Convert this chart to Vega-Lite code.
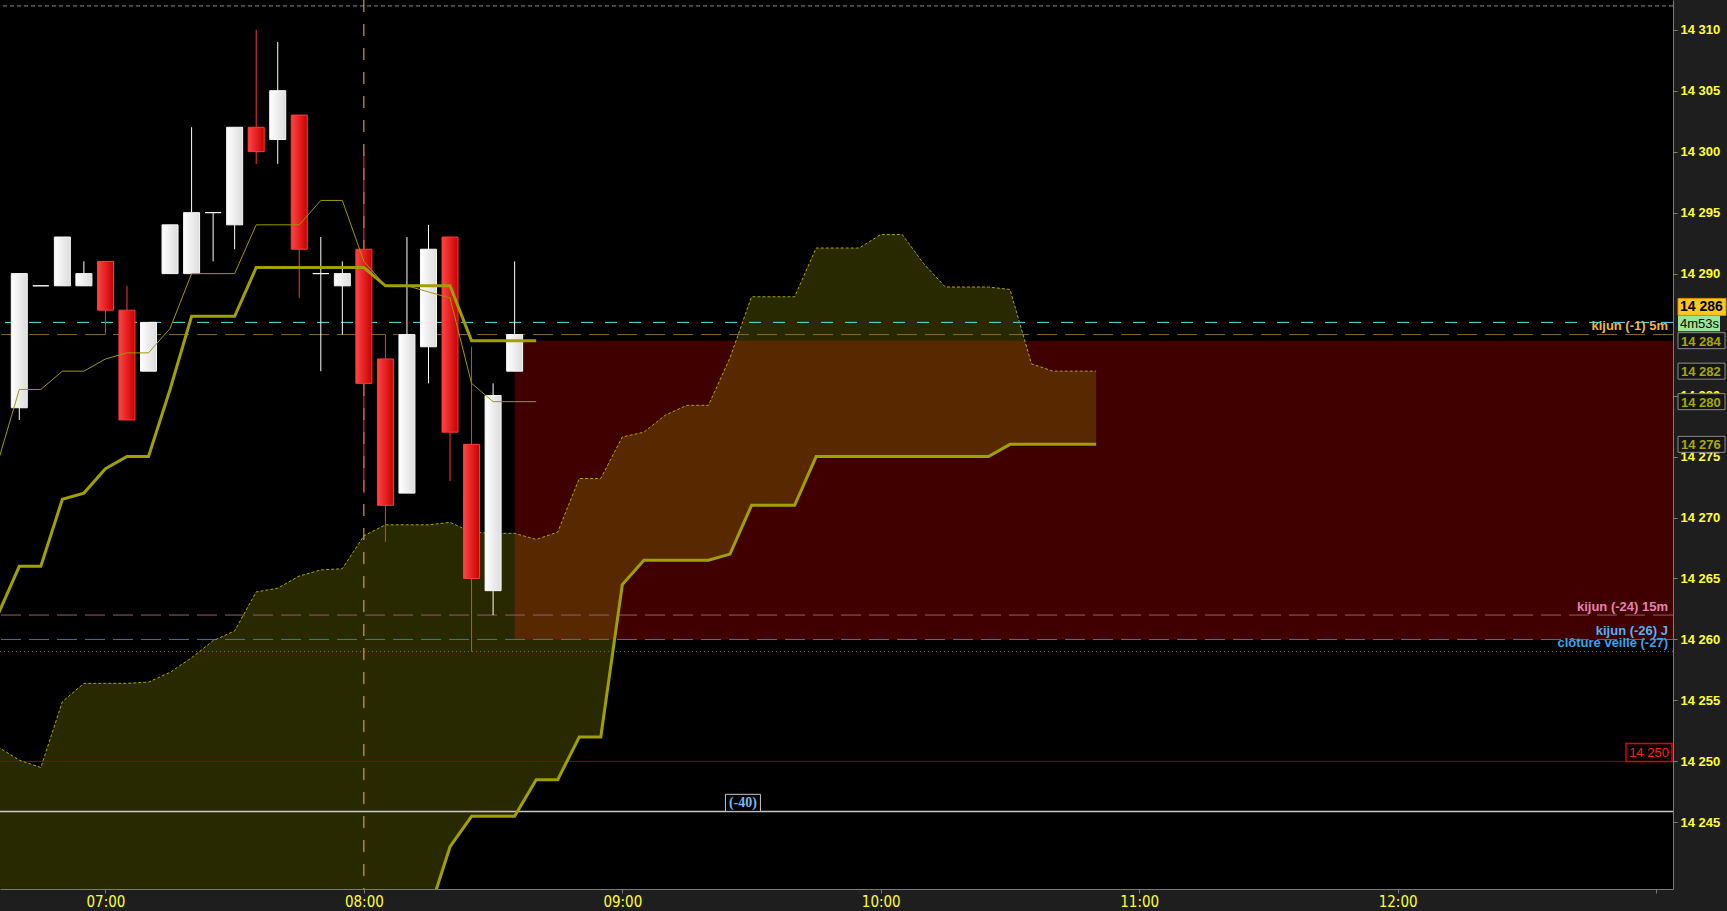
{
  "$schema": "https://vega.github.io/schema/vega-lite/v6.json",
  "width": 1673,
  "height": 889,
  "autosize": {"type": "none"},
  "padding": {"left": 0, "top": 0, "right": 54, "bottom": 22},
  "background": "#1e1e1e",
  "config": {"view": {"fill": "#000000", "stroke": null}},
  "datasets": {
    "candles": [
      {"t": "2024-03-01T06:40:00", "o": 14279, "h": 14290, "l": 14278, "c": 14290},
      {"t": "2024-03-01T06:45:00", "o": 14289, "h": 14289, "l": 14289, "c": 14289},
      {"t": "2024-03-01T06:50:00", "o": 14289, "h": 14293, "l": 14289, "c": 14293},
      {"t": "2024-03-01T06:55:00", "o": 14289, "h": 14291, "l": 14289, "c": 14290},
      {"t": "2024-03-01T07:00:00", "o": 14291, "h": 14291, "l": 14285, "c": 14287},
      {"t": "2024-03-01T07:05:00", "o": 14287, "h": 14289, "l": 14278, "c": 14278},
      {"t": "2024-03-01T07:10:00", "o": 14282, "h": 14286, "l": 14282, "c": 14286},
      {"t": "2024-03-01T07:15:00", "o": 14290, "h": 14294, "l": 14290, "c": 14294},
      {"t": "2024-03-01T07:20:00", "o": 14290, "h": 14302, "l": 14290, "c": 14295},
      {"t": "2024-03-01T07:25:00", "o": 14295, "h": 14295, "l": 14291, "c": 14295},
      {"t": "2024-03-01T07:30:00", "o": 14294, "h": 14302, "l": 14292, "c": 14302},
      {"t": "2024-03-01T07:35:00", "o": 14302, "h": 14310, "l": 14299, "c": 14300},
      {"t": "2024-03-01T07:40:00", "o": 14301, "h": 14309, "l": 14299, "c": 14305},
      {"t": "2024-03-01T07:45:00", "o": 14303, "h": 14303, "l": 14288, "c": 14292},
      {"t": "2024-03-01T07:50:00", "o": 14290, "h": 14293, "l": 14282, "c": 14290},
      {"t": "2024-03-01T07:55:00", "o": 14289, "h": 14291, "l": 14285, "c": 14290},
      {"t": "2024-03-01T08:00:00", "o": 14292, "h": 14300, "l": 14272, "c": 14281},
      {"t": "2024-03-01T08:05:00", "o": 14283, "h": 14285, "l": 14268, "c": 14271},
      {"t": "2024-03-01T08:10:00", "o": 14272, "h": 14293, "l": 14272, "c": 14285},
      {"t": "2024-03-01T08:15:00", "o": 14284, "h": 14294, "l": 14281, "c": 14292},
      {"t": "2024-03-01T08:20:00", "o": 14293, "h": 14293, "l": 14273, "c": 14277},
      {"t": "2024-03-01T08:25:00", "o": 14276, "h": 14284, "l": 14259, "c": 14265},
      {"t": "2024-03-01T08:30:00", "o": 14264, "h": 14281, "l": 14262, "c": 14280},
      {"t": "2024-03-01T08:35:00", "o": 14282, "h": 14291, "l": 14282, "c": 14285}
    ],
    "kt": [
      {"t": "2024-03-01T06:35:00", "tenkan": 14274.5, "kijun": 14262},
      {"t": "2024-03-01T06:40:00", "tenkan": 14280.5, "kijun": 14266},
      {"t": "2024-03-01T06:45:00", "tenkan": 14280.5, "kijun": 14266},
      {"t": "2024-03-01T06:50:00", "tenkan": 14282, "kijun": 14271.5},
      {"t": "2024-03-01T06:55:00", "tenkan": 14282, "kijun": 14272},
      {"t": "2024-03-01T07:00:00", "tenkan": 14283, "kijun": 14274},
      {"t": "2024-03-01T07:05:00", "tenkan": 14283.5, "kijun": 14275},
      {"t": "2024-03-01T07:10:00", "tenkan": 14283.5, "kijun": 14275},
      {"t": "2024-03-01T07:15:00", "tenkan": 14285.5, "kijun": 14280.5},
      {"t": "2024-03-01T07:20:00", "tenkan": 14290, "kijun": 14286.5},
      {"t": "2024-03-01T07:25:00", "tenkan": 14290, "kijun": 14286.5},
      {"t": "2024-03-01T07:30:00", "tenkan": 14290, "kijun": 14286.5},
      {"t": "2024-03-01T07:35:00", "tenkan": 14294, "kijun": 14290.5},
      {"t": "2024-03-01T07:40:00", "tenkan": 14294, "kijun": 14290.5},
      {"t": "2024-03-01T07:45:00", "tenkan": 14294, "kijun": 14290.5},
      {"t": "2024-03-01T07:50:00", "tenkan": 14296, "kijun": 14290.5},
      {"t": "2024-03-01T07:55:00", "tenkan": 14296, "kijun": 14290.5},
      {"t": "2024-03-01T08:00:00", "tenkan": 14291, "kijun": 14290.5},
      {"t": "2024-03-01T08:05:00", "tenkan": 14289, "kijun": 14289},
      {"t": "2024-03-01T08:10:00", "tenkan": 14289, "kijun": 14289},
      {"t": "2024-03-01T08:15:00", "tenkan": 14288.5, "kijun": 14289},
      {"t": "2024-03-01T08:20:00", "tenkan": 14288, "kijun": 14289},
      {"t": "2024-03-01T08:25:00", "tenkan": 14281, "kijun": 14284.5},
      {"t": "2024-03-01T08:30:00", "tenkan": 14279.5, "kijun": 14284.5},
      {"t": "2024-03-01T08:35:00", "tenkan": 14279.5, "kijun": 14284.5},
      {"t": "2024-03-01T08:40:00", "tenkan": 14279.5, "kijun": 14284.5}
    ],
    "cloud": [
      {"t": "2024-03-01T06:35:00", "a": 14251.2, "b": 14235},
      {"t": "2024-03-01T06:40:00", "a": 14250.1, "b": 14235},
      {"t": "2024-03-01T06:45:00", "a": 14249.5, "b": 14235},
      {"t": "2024-03-01T06:50:00", "a": 14254.9, "b": 14235},
      {"t": "2024-03-01T06:55:00", "a": 14256.4, "b": 14235},
      {"t": "2024-03-01T07:00:00", "a": 14256.4, "b": 14235},
      {"t": "2024-03-01T07:05:00", "a": 14256.4, "b": 14235},
      {"t": "2024-03-01T07:10:00", "a": 14256.5, "b": 14235},
      {"t": "2024-03-01T07:15:00", "a": 14257.3, "b": 14235},
      {"t": "2024-03-01T07:20:00", "a": 14258.5, "b": 14235},
      {"t": "2024-03-01T07:25:00", "a": 14259.9, "b": 14235},
      {"t": "2024-03-01T07:30:00", "a": 14260.7, "b": 14235},
      {"t": "2024-03-01T07:35:00", "a": 14263.9, "b": 14235},
      {"t": "2024-03-01T07:40:00", "a": 14264.2, "b": 14235},
      {"t": "2024-03-01T07:45:00", "a": 14265.2, "b": 14235},
      {"t": "2024-03-01T07:50:00", "a": 14265.7, "b": 14235},
      {"t": "2024-03-01T07:55:00", "a": 14265.8, "b": 14235},
      {"t": "2024-03-01T08:00:00", "a": 14268.5, "b": 14235},
      {"t": "2024-03-01T08:05:00", "a": 14269.4, "b": 14235},
      {"t": "2024-03-01T08:10:00", "a": 14269.4, "b": 14236},
      {"t": "2024-03-01T08:15:00", "a": 14269.4, "b": 14237.5},
      {"t": "2024-03-01T08:20:00", "a": 14269.6, "b": 14243},
      {"t": "2024-03-01T08:25:00", "a": 14268.8, "b": 14245.5},
      {"t": "2024-03-01T08:30:00", "a": 14268.7, "b": 14245.5},
      {"t": "2024-03-01T08:35:00", "a": 14268.7, "b": 14245.5},
      {"t": "2024-03-01T08:40:00", "a": 14268.2, "b": 14248.5},
      {"t": "2024-03-01T08:45:00", "a": 14268.8, "b": 14248.5},
      {"t": "2024-03-01T08:50:00", "a": 14273.2, "b": 14252},
      {"t": "2024-03-01T08:55:00", "a": 14273.2, "b": 14252},
      {"t": "2024-03-01T09:00:00", "a": 14276.6, "b": 14264.5},
      {"t": "2024-03-01T09:05:00", "a": 14277, "b": 14266.5},
      {"t": "2024-03-01T09:10:00", "a": 14278.4, "b": 14266.5},
      {"t": "2024-03-01T09:15:00", "a": 14279.2, "b": 14266.5},
      {"t": "2024-03-01T09:20:00", "a": 14279.2, "b": 14266.5},
      {"t": "2024-03-01T09:25:00", "a": 14283.1, "b": 14267},
      {"t": "2024-03-01T09:30:00", "a": 14288.1, "b": 14271},
      {"t": "2024-03-01T09:35:00", "a": 14288.1, "b": 14271},
      {"t": "2024-03-01T09:40:00", "a": 14288.1, "b": 14271},
      {"t": "2024-03-01T09:45:00", "a": 14292.1, "b": 14275},
      {"t": "2024-03-01T09:50:00", "a": 14292.1, "b": 14275},
      {"t": "2024-03-01T09:55:00", "a": 14292.1, "b": 14275},
      {"t": "2024-03-01T10:00:00", "a": 14293.2, "b": 14275},
      {"t": "2024-03-01T10:05:00", "a": 14293.2, "b": 14275},
      {"t": "2024-03-01T10:10:00", "a": 14290.8, "b": 14275},
      {"t": "2024-03-01T10:15:00", "a": 14288.9, "b": 14275},
      {"t": "2024-03-01T10:20:00", "a": 14288.9, "b": 14275},
      {"t": "2024-03-01T10:25:00", "a": 14288.9, "b": 14275},
      {"t": "2024-03-01T10:30:00", "a": 14288.7, "b": 14276},
      {"t": "2024-03-01T10:35:00", "a": 14282.6, "b": 14276},
      {"t": "2024-03-01T10:40:00", "a": 14282, "b": 14276},
      {"t": "2024-03-01T10:45:00", "a": 14282, "b": 14276},
      {"t": "2024-03-01T10:50:00", "a": 14282, "b": 14276}
    ],
    "levels": [
      {"price": 14285, "label": "kijun (-1) 5m"},
      {"price": 14262, "label": "kijun (-24) 15m"},
      {"price": 14260, "label": "kijun (-26) J"},
      {"price": 14259, "label": "clôture veille (-27)"}
    ],
    "tags": [
      {"price": 14284.5, "text": "14 284"},
      {"price": 14282, "text": "14 282"},
      {"price": 14279.5, "text": "14 280"},
      {"price": 14276, "text": "14 276"}
    ]
  },
  "layer": [
    {
      "data": {"values": [{"t": "2024-03-01T08:35:00", "t2": "2024-03-01T13:30:00", "lo": 14260, "hi": 14284.5}]},
      "mark": {"type": "rect", "color": "#400000", "clip": true},
      "encoding": {
        "x": {
          "field": "t", "type": "temporal",
          "scale": {"domain": [
            {"year": 2024, "month": 3, "date": 1, "hours": 6, "minutes": 36, "seconds": 41},
            {"year": 2024, "month": 3, "date": 1, "hours": 13, "minutes": 2, "seconds": 46}
          ]},
          "axis": {
            "format": "%H:%M",
            "values": [
              {"year": 2024, "month": 3, "date": 1, "hours": 7},
              {"year": 2024, "month": 3, "date": 1, "hours": 8},
              {"year": 2024, "month": 3, "date": 1, "hours": 9},
              {"year": 2024, "month": 3, "date": 1, "hours": 10},
              {"year": 2024, "month": 3, "date": 1, "hours": 11},
              {"year": 2024, "month": 3, "date": 1, "hours": 12},
              {"year": 2024, "month": 3, "date": 1, "hours": 13}
            ],
            "labelExpr": "hours(datum.value) == 13 ? '' : timeFormat(datum.value, '%H:%M')",
            "labelColor": "#ffff33", "labelFont": "DejaVu Sans Condensed",
            "labelFontSize": 15, "labelPadding": 1, "tickSize": 4, "tickColor": "#7a7a7a",
            "domainColor": "#7a7a7a", "labelFlush": false, "labelOverlap": false,
            "grid": false, "title": null
          }
        },
        "x2": {"field": "t2"},
        "y": {
          "field": "lo", "type": "quantitative",
          "scale": {"domain": [14239.946, 14312.027], "nice": false, "zero": false},
          "axis": {
            "orient": "right",
            "values": [14245, 14250, 14255, 14260, 14265, 14270, 14275, 14280, 14290, 14295, 14300, 14305, 14310],
            "labelExpr": "replace(format(datum.value, ','), ',', ' ')",
            "labelColor": "#ffff33", "labelFont": "Liberation Sans", "labelFontWeight": "bold", "labelFontSize": 13,
            "labelPadding": 3, "tickSize": 4, "tickColor": "#8a8a50", "domainColor": "#7a7a7a",
            "grid": false, "title": null, "labelOverlap": false
          }
        },
        "y2": {"field": "hi"}
      }
    },
    {
      "data": {"name": "cloud"},
      "mark": {"type": "area", "clip": true, "color": "#a0a000", "opacity": 0.26},
      "encoding": {
        "x": {"field": "t", "type": "temporal"},
        "y": {"field": "a", "type": "quantitative"},
        "y2": {"field": "b"}
      }
    },
    {"data": {"values": [{"price": 14311.95}]}, "mark": {"type": "rule", "color": "#8c8c8c", "strokeDash": [4, 3]}, "encoding": {"y": {"field": "price", "type": "quantitative"}}},
    {"data": {"values": [{"price": 14250}]}, "mark": {"type": "rule", "color": "#a00000"}, "encoding": {"y": {"field": "price", "type": "quantitative"}}},
    {"data": {"values": [{"price": 14245.9}]}, "mark": {"type": "rule", "color": "#c8c8c8", "strokeWidth": 1.5}, "encoding": {"y": {"field": "price", "type": "quantitative"}}},
    {"data": {"values": [{"price": 14262}]}, "mark": {"type": "rule", "color": "#9c5a6a", "strokeDash": [20, 8]}, "encoding": {"y": {"field": "price", "type": "quantitative"}}},
    {"data": {"values": [{"price": 14260}]}, "mark": {"type": "rule", "color": "#3a7a9a", "strokeDash": [20, 8]}, "encoding": {"y": {"field": "price", "type": "quantitative"}}},
    {"data": {"values": [{"price": 14259}]}, "mark": {"type": "rule", "color": "#2f86c0", "strokeDash": [1, 3]}, "encoding": {"y": {"field": "price", "type": "quantitative"}}},
    {"data": {"values": [{"price": 14285}]}, "mark": {"type": "rule", "color": "#8a6a2a", "strokeDash": [20, 8]}, "encoding": {"y": {"field": "price", "type": "quantitative"}}},
    {"data": {"values": [{"price": 14286}]}, "mark": {"type": "rule", "color": "#4de6f0", "strokeDash": [12, 12]}, "encoding": {"y": {"field": "price", "type": "quantitative"}}},
    {
      "data": {"values": [{"t": "2024-03-01T08:00:00"}]},
      "mark": {"type": "rule", "color": "#f0c030", "strokeDash": [12, 12], "strokeWidth": 1},
      "encoding": {"x": {"field": "t", "type": "temporal"}}
    },
    {
      "data": {"name": "cloud"},
      "mark": {"type": "line", "color": "#a8a800", "strokeWidth": 1, "strokeDash": [3, 2], "clip": true},
      "encoding": {"x": {"field": "t", "type": "temporal"}, "y": {"field": "a", "type": "quantitative"}}
    },
    {
      "data": {"name": "cloud"},
      "mark": {"type": "line", "color": "#a0a000", "strokeWidth": 3, "clip": true},
      "encoding": {"x": {"field": "t", "type": "temporal"}, "y": {"field": "b", "type": "quantitative"}}
    },
    {
      "data": {"name": "candles"},
      "mark": {"type": "rule", "strokeWidth": 1, "clip": true},
      "encoding": {
        "x": {"field": "t", "type": "temporal"},
        "y": {"field": "l", "type": "quantitative"},
        "y2": {"field": "h"},
        "color": {"condition": {"test": "datum.c < datum.o", "value": "#ff3333"}, "value": "#ffffff"}
      }
    },
    {
      "data": {"name": "candles"},
      "transform": [{"filter": "datum.c < datum.o"}],
      "mark": {"type": "bar", "width": 16, "clip": true, "stroke": "#ff3b3b", "strokeWidth": 1,
        "fill": {"gradient": "linear", "stops": [{"offset": 0, "color": "#ff4444"}, {"offset": 1, "color": "#c80000"}]}},
      "encoding": {
        "x": {"field": "t", "type": "temporal"},
        "y": {"field": "o", "type": "quantitative"},
        "y2": {"field": "c"}
      }
    },
    {
      "data": {"name": "candles"},
      "transform": [{"filter": "datum.c >= datum.o"}],
      "mark": {"type": "bar", "width": 16, "clip": true, "stroke": "#f8f8f8", "strokeWidth": 1,
        "fill": {"gradient": "linear", "stops": [{"offset": 0, "color": "#ffffff"}, {"offset": 1, "color": "#dcdcdc"}]}},
      "encoding": {
        "x": {"field": "t", "type": "temporal"},
        "y": {"field": "o", "type": "quantitative"},
        "y2": {"field": "c"}
      }
    },
    {
      "data": {"name": "kt"},
      "mark": {"type": "line", "color": "#9a9a00", "strokeWidth": 1, "clip": true},
      "encoding": {"x": {"field": "t", "type": "temporal"}, "y": {"field": "tenkan", "type": "quantitative"}}
    },
    {
      "data": {"name": "kt"},
      "mark": {"type": "line", "color": "#a0a000", "strokeWidth": 3, "clip": true},
      "encoding": {"x": {"field": "t", "type": "temporal"}, "y": {"field": "kijun", "type": "quantitative"}}
    },
    {
      "data": {"name": "levels"},
      "mark": {"type": "text", "align": "right", "baseline": "alphabetic", "dy": -4.5, "font": "Liberation Sans", "fontWeight": "bold", "fontSize": 13},
      "encoding": {
        "x": {"value": 1668},
        "y": {"field": "price", "type": "quantitative"},
        "text": {"field": "label"},
        "color": {"field": "label", "type": "nominal", "legend": null,
          "scale": {"domain": ["kijun (-1) 5m", "kijun (-24) 15m", "kijun (-26) J", "clôture veille (-27)"],
                    "range": ["#f0b448", "#e483b2", "#52b4f0", "#3ea2ea"]}}
      }
    },
    {
      "data": {"values": [{"price": 14250, "text": "14 250"}]},
      "layer": [
        {"mark": {"type": "bar", "orient": "horizontal", "height": 18, "color": "#000000", "stroke": "#e00000", "strokeWidth": 1.5},
         "encoding": {"x": {"value": 1626}, "x2": {"value": 1672}, "y": {"datum": 14250.73, "type": "quantitative"}}},
        {"mark": {"type": "text", "align": "center", "baseline": "middle", "dy": -8.5, "font": "Liberation Sans", "fontSize": 13, "color": "#ff2020"},
         "encoding": {"x": {"value": 1649}, "y": {"field": "price", "type": "quantitative"}, "text": {"field": "text"}}}
      ]
    },
    {
      "data": {"values": [{"t": "2024-03-01T09:28:00", "price": 14245.9, "text": "(-40)"}]},
      "layer": [
        {"mark": {"type": "bar", "width": 35, "color": "#000000", "stroke": "#c8c8c8", "strokeWidth": 1},
         "encoding": {"x": {"field": "t", "type": "temporal"}, "y": {"field": "price", "type": "quantitative"}, "y2": {"datum": 14247.3}}},
        {"mark": {"type": "text", "align": "center", "baseline": "middle", "dy": -8, "font": "Liberation Serif", "fontWeight": "bold", "fontSize": 14, "color": "#7ab8f5"},
         "encoding": {"x": {"field": "t", "type": "temporal"}, "y": {"field": "price", "type": "quantitative"}, "text": {"field": "text"}}}
      ]
    },
    {
      "data": {"name": "tags"},
      "layer": [
        {"mark": {"type": "bar", "orient": "horizontal", "height": 16, "color": "#151515", "stroke": "#8c8c8c", "strokeWidth": 1, "clip": false},
         "encoding": {"x": {"value": 1678}, "x2": {"value": 1725}, "y": {"field": "price", "type": "quantitative"}}},
        {"mark": {"type": "text", "align": "left", "baseline": "middle", "dy": 1, "font": "Liberation Sans", "fontWeight": "bold", "fontSize": 13, "color": "#a8a800"},
         "encoding": {"x": {"value": 1681}, "y": {"field": "price", "type": "quantitative"}, "text": {"field": "text"}}}
      ]
    },
    {
      "data": {"values": [{"price": 14286, "text": "4m53s"}]},
      "layer": [
        {"mark": {"type": "bar", "orient": "horizontal", "height": 16, "color": "#98e898", "clip": false},
         "encoding": {"x": {"value": 1678}, "x2": {"value": 1720}, "y": {"datum": 14285.92, "type": "quantitative"}}},
        {"mark": {"type": "text", "align": "left", "baseline": "middle", "dy": 1.5, "font": "Liberation Sans", "fontSize": 13, "color": "#000000"},
         "encoding": {"x": {"value": 1680}, "y": {"field": "price", "type": "quantitative"}, "text": {"field": "text"}}}
      ]
    },
    {
      "data": {"values": [{"price": 14286, "text": "14 286"}]},
      "layer": [
        {"mark": {"type": "bar", "orient": "horizontal", "height": 17, "color": "#fcc820", "stroke": "#d09000", "strokeWidth": 1, "clip": false},
         "encoding": {"x": {"value": 1678}, "x2": {"value": 1726}, "y": {"datum": 14287.27, "type": "quantitative"}}},
        {"mark": {"type": "text", "align": "left", "baseline": "middle", "dy": -15, "font": "Liberation Sans", "fontWeight": "bold", "fontSize": 14, "color": "#000000"},
         "encoding": {"x": {"value": 1680}, "y": {"field": "price", "type": "quantitative"}, "text": {"field": "text"}}}
      ]
    }
  ]
}
